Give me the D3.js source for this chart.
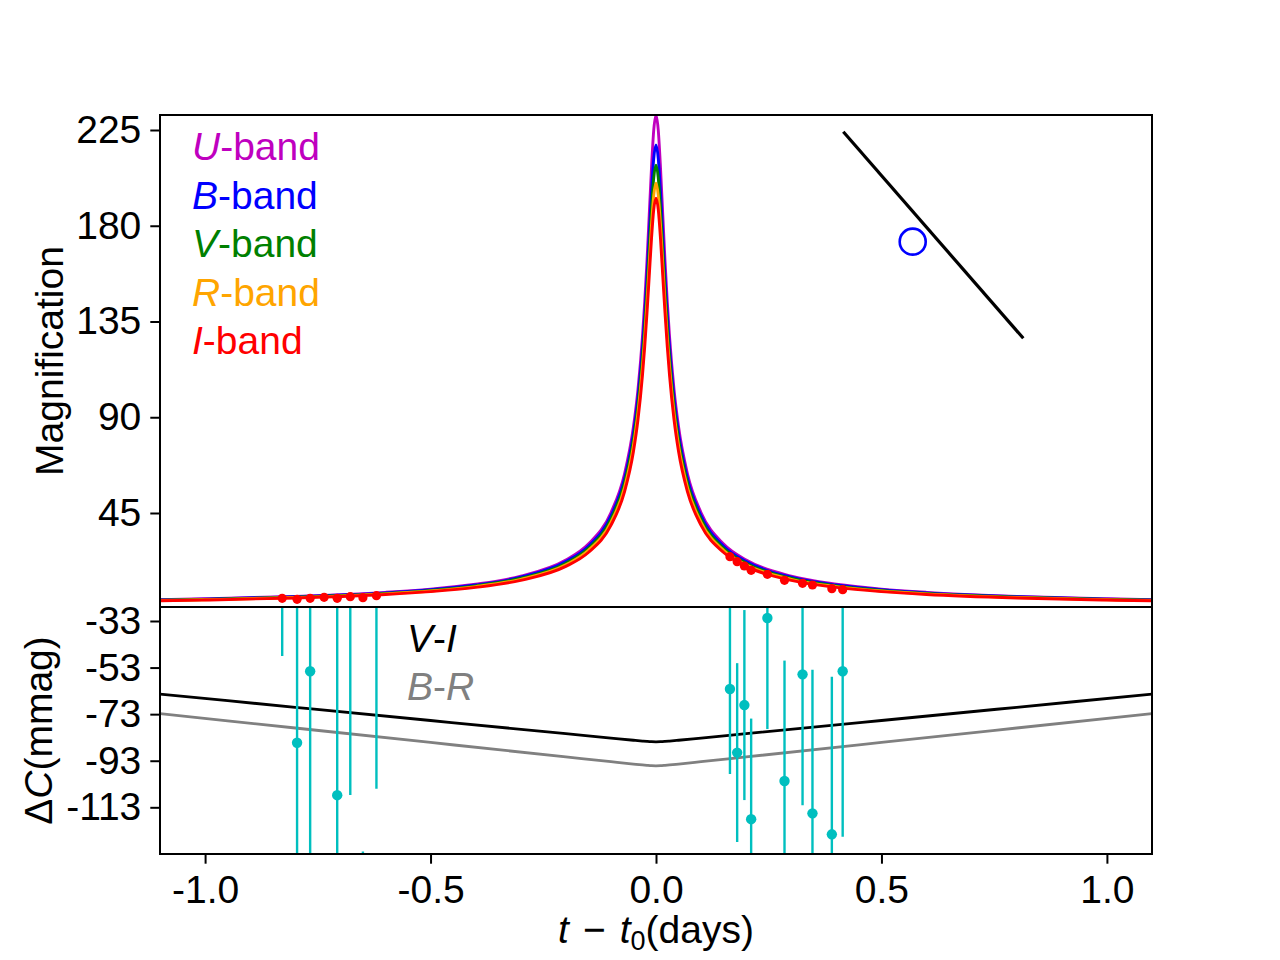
<!DOCTYPE html>
<html>
<head>
<meta charset="utf-8">
<script src="https://cdn.jsdelivr.net/npm/d3@7/dist/d3.min.js"></script>
<style>
    body { margin: 0; background: #fff; }
    text { font-family: "Liberation Sans", Arial, sans-serif; }
</style>
</head>
<body>
<script>

    // ---------------- data ----------------
    // model light curves: time from peak (days) and magnification per band
    var tModel = [-1.1, -1.0, -0.8, -0.6, -0.5, -0.4, -0.3, -0.2, -0.15, -0.1, -0.07, -0.05, -0.04, -0.03, -0.025, -0.02, -0.015, -0.01, -0.005,
        0, 0.005, 0.01, 0.015, 0.02, 0.025, 0.03, 0.04, 0.05, 0.07, 0.1, 0.15, 0.2, 0.3, 0.4, 0.5, 0.6, 0.8, 1.0, 1.1];
    var magU = [4.27, 4.68, 5.81, 7.71, 9.23, 11.52, 15.32, 22.90, 30.42, 45.13, 63.2, 85.5, 103.0, 127.9, 144.2, 163.3, 185.0, 207.1, 225.0,
        232, 225.0, 207.1, 185.0, 163.3, 144.2, 127.9, 103.0, 85.5, 63.2, 45.13, 30.42, 22.90, 15.32, 11.52, 9.23, 7.71, 5.81, 4.68, 4.27];
    var magB = [4.14, 4.53, 5.63, 7.46, 8.93, 11.14, 14.82, 22.15, 29.41, 43.61, 61.0, 82.4, 99.1, 122.6, 137.9, 155.7, 175.7, 195.8, 211.7,
        218, 211.7, 195.8, 175.7, 155.7, 137.9, 122.6, 99.1, 82.4, 61.0, 43.61, 29.41, 22.15, 14.82, 11.14, 8.93, 7.46, 5.63, 4.53, 4.14];
    var magV = [4.00, 4.39, 5.44, 7.22, 8.64, 10.77, 14.33, 21.40, 28.41, 42.12, 58.9, 79.5, 95.5, 118.1, 132.7, 149.7, 168.6, 187.6, 202.6,
        208.5, 202.6, 187.6, 168.6, 149.7, 132.7, 118.1, 95.5, 79.5, 58.9, 42.12, 28.41, 21.40, 14.33, 10.77, 8.64, 7.22, 5.44, 4.39, 4.00];
    var magR = [3.87, 4.24, 5.26, 6.97, 8.34, 10.40, 13.83, 20.66, 27.42, 40.64, 56.8, 76.7, 92.1, 113.8, 127.7, 144.0, 162.1, 180.2, 194.4,
        200, 194.4, 180.2, 162.1, 144.0, 127.7, 113.8, 92.1, 76.7, 56.8, 40.64, 27.42, 20.66, 13.83, 10.40, 8.34, 6.97, 5.26, 4.24, 3.87];
    var magI = [3.74, 4.09, 5.07, 6.72, 8.04, 10.02, 13.33, 19.91, 26.43, 39.18, 54.8, 73.9, 88.8, 109.7, 123.2, 138.9, 156.3, 173.8, 187.6,
        193, 187.6, 173.8, 156.3, 138.9, 123.2, 109.7, 88.8, 73.9, 54.8, 39.18, 26.43, 19.91, 13.33, 10.02, 8.04, 6.72, 5.07, 4.09, 3.74];

    var bandNames = ["U", "B", "V", "R", "I"];
    var bandColors = ["#bf00bf", "#0000ff", "#008000", "#ffa500", "#ff0000"];
    var bandMags = [magU, magB, magV, magR, magI];

    // observed points (I band) and their colour offsets
    var obsT = [-0.829, -0.796, -0.767, -0.736, -0.707, -0.678, -0.650, -0.620,
        0.164, 0.180, 0.196, 0.211, 0.247, 0.285, 0.325, 0.347, 0.390, 0.414];
    var obsMag = [4.91, 4.44, 4.91, 5.38, 4.91, 5.66, 5.19, 6.13,
        24.46, 22.11, 20.09, 18.07, 16.19, 13.37, 11.96, 11.16, 9.42, 8.95];
    var obsDC = [56, -85.3, -54.6, 90, -107.8, -2.7, -237, -5,
        -62.2, -89.5, -69.1, -118.1, -31.7, -101.7, -55.9, -115.6, -124.6, -54.6];
    var obsDCerr = [104, 105, 103, 105, 102, 105, 105, 100,
        36.5, 38.4, 40.8, 43.2, 47.7, 51.7, 56.2, 61.7, 67.7, 71.0];

    // model colour curves (mmag)
    var tColor = [-1.1, -0.8, -0.5, -0.2, -0.1, -0.05, -0.03, -0.02, -0.01, 0, 0.01, 0.02, 0.03, 0.05, 0.1, 0.2, 0.5, 0.8, 1.1];
    var colorVI = [-64.39, -70.06, -75.73, -81.39, -83.27, -84.20, -84.55, -84.71, -84.84, -84.9,
        -84.84, -84.71, -84.55, -84.20, -83.27, -81.39, -75.73, -70.06, -64.39];
    var colorBR = [-72.74, -78.95, -85.16, -91.36, -93.42, -94.43, -94.82, -94.99, -95.14, -95.2,
        -95.14, -94.99, -94.82, -94.43, -93.42, -91.36, -85.16, -78.95, -72.74];

    // inset: source trajectory and source disc (inset units 0..1)
    var trajX = [0.0665, 0.9665];
    var trajY = [0.949, 0.0509];
    var sourceX = [0.4135];
    var sourceY = [0.471];

    // ticks
    var magTicks = [45, 90, 135, 180, 225];
    var dcTicks = [-33, -53, -73, -93, -113];
    var timeTicks = [-1.0, -0.5, 0.0, 0.5, 1.0];

    // ---------------- layout ----------------
    // note: "top" is a reserved window property, so panel edges get their own names
    var W = 1280, H = 960;
    var padL = 160, padR = 1152, panelTop = 115, panelMid = 607, panelBot = 854;
    var fontSize = 39;

    var svg = d3.select("body").append("svg")
        .attr("width", W).attr("height", H)
        .style("display", "block");

    var x = d3.scaleLinear().domain([-1.1, 1.1]).range([padL, padR]);
    var yTop = d3.scaleLinear().domain([0.82, 232.05]).range([panelMid, panelTop]);
    var yBot = d3.scaleLinear().domain([-133.05, -26.99]).range([panelBot, panelMid]);

    var defs = svg.append("defs");
    defs.append("clipPath").attr("id", "clipTop").append("rect")
        .attr("x", padL).attr("y", panelTop).attr("width", padR - padL).attr("height", panelMid - panelTop);
    defs.append("clipPath").attr("id", "clipBot").append("rect")
        .attr("x", padL).attr("y", panelMid).attr("width", padR - padL).attr("height", panelBot - panelMid);

    //--------------------------top panel-------------------------
    var gTop = svg.append("g").attr("clip-path", "url(#clipTop)");

    bandMags.forEach(function (mags, i) {
        var line = d3.line()
            .x(function (d, j) { return x(tModel[j]); })
            .y(function (d) { return yTop(d); })
            .curve(d3.curveMonotoneX);
        gTop.append("path")
            .attr("d", line(mags))
            .attr("fill", "none")
            .attr("stroke", bandColors[i])
            .attr("stroke-width", 2.9);
    });

    gTop.selectAll(".obs")
        .data(obsT)
        .enter()
        .append("circle")
        .attr("cx", function (d) { return x(d); })
        .attr("cy", function (d, i) { return yTop(obsMag[i]); })
        .attr("r", 4.6)
        .attr("fill", "#ff0000");

    // inset
    var ix = d3.scaleLinear().domain([0, 1]).range([830, 1030]);
    var iy = d3.scaleLinear().domain([0, 1]).range([350, 120]);
    gTop.append("line")
        .attr("x1", ix(trajX[0])).attr("y1", iy(trajY[0]))
        .attr("x2", ix(trajX[1])).attr("y2", iy(trajY[1]))
        .attr("stroke", "#000").attr("stroke-width", 3.2);
    gTop.selectAll(".src")
        .data(sourceX)
        .enter()
        .append("circle")
        .attr("cx", function (d) { return ix(d); })
        .attr("cy", function (d, i) { return iy(sourceY[i]); })
        .attr("r", 13)
        .attr("fill", "none")
        .attr("stroke", "#0000ff")
        .attr("stroke-width", 2.6);

    // legend
    var legend = svg.append("g");
    bandNames.forEach(function (b, i) {
        var t = legend.append("text")
            .attr("x", 192)
            .attr("y", 160 + i * 48.6)
            .attr("font-size", fontSize)
            .attr("fill", bandColors[i]);
        t.append("tspan").attr("font-style", "italic").text(b);
        t.append("tspan").text("-band");
    });

    //--------------------------bottom panel-------------------------
    var gBot = svg.append("g").attr("clip-path", "url(#clipBot)");

    var colLine = d3.line()
        .x(function (d, j) { return x(tColor[j]); })
        .y(function (d) { return yBot(d); })
        .curve(d3.curveMonotoneX);
    gBot.append("path").attr("d", colLine(colorBR))
        .attr("fill", "none").attr("stroke", "#808080").attr("stroke-width", 2.8);
    gBot.append("path").attr("d", colLine(colorVI))
        .attr("fill", "none").attr("stroke", "#000").attr("stroke-width", 2.8);

    gBot.selectAll(".err")
        .data(obsT)
        .enter()
        .append("line")
        .attr("x1", function (d) { return x(d); })
        .attr("x2", function (d) { return x(d); })
        .attr("y1", function (d, i) { return yBot(obsDC[i] - obsDCerr[i]); })
        .attr("y2", function (d, i) { return yBot(obsDC[i] + obsDCerr[i]); })
        .attr("stroke", "#00bfbf")
        .attr("stroke-width", 2.4);
    gBot.selectAll(".dc")
        .data(obsT)
        .enter()
        .append("circle")
        .attr("cx", function (d) { return x(d); })
        .attr("cy", function (d, i) { return yBot(obsDC[i]); })
        .attr("r", 5.2)
        .attr("fill", "#00bfbf");

    var ann = [["V", "I", "#000"], ["B", "R", "#808080"]];
    ann.forEach(function (a, i) {
        var t = svg.append("text")
            .attr("x", 407)
            .attr("y", 652 + i * 48)
            .attr("font-size", fontSize)
            .attr("fill", a[2]);
        t.append("tspan").attr("font-style", "italic").text(a[0]);
        t.append("tspan").text("-");
        t.append("tspan").attr("font-style", "italic").text(a[1]);
    });

    //--------------------------axes-------------------------
    function styleAxis(g) {
        g.select(".domain").remove();
        g.selectAll(".tick line").attr("stroke", "#000").attr("stroke-width", 2);
        g.selectAll(".tick text")
            .attr("font-size", fontSize)
            .attr("font-family", "Liberation Sans, Arial, sans-serif")
            .attr("fill", "#000");
    }

    svg.append("g")
        .attr("transform", "translate(" + padL + ",0)")
        .call(d3.axisLeft(yTop).tickValues(magTicks).tickSize(9.7).tickPadding(9)
            .tickFormat(function (d) { return String(d); }))
        .call(styleAxis);

    svg.append("g")
        .attr("transform", "translate(" + padL + ",0)")
        .call(d3.axisLeft(yBot).tickValues(dcTicks).tickSize(9.7).tickPadding(9)
            .tickFormat(function (d) { return String(d); }))
        .call(styleAxis);

    svg.append("g")
        .attr("transform", "translate(0," + panelBot + ")")
        .call(d3.axisBottom(x).tickValues(timeTicks).tickSize(9.7).tickPadding(12)
            .tickFormat(function (d) { return d.toFixed(1); }))
        .call(styleAxis);

    // spines
    svg.append("rect")
        .attr("x", padL).attr("y", panelTop).attr("width", padR - padL).attr("height", panelMid - panelTop)
        .attr("fill", "none").attr("stroke", "#000").attr("stroke-width", 2);
    svg.append("rect")
        .attr("x", padL).attr("y", panelMid).attr("width", padR - padL).attr("height", panelBot - panelMid)
        .attr("fill", "none").attr("stroke", "#000").attr("stroke-width", 2);

    // axis labels
    svg.append("text")
        .attr("transform", "translate(63," + ((panelTop + panelMid) / 2) + ") rotate(-90)")
        .attr("text-anchor", "middle")
        .attr("font-size", fontSize)
        .text("Magnification");

    var dcLabel = svg.append("text")
        .attr("transform", "translate(52," + ((panelMid + panelBot) / 2) + ") rotate(-90)")
        .attr("text-anchor", "middle")
        .attr("font-size", fontSize);
    dcLabel.append("tspan").text("\u0394");
    dcLabel.append("tspan").attr("font-style", "italic").text("C");
    dcLabel.append("tspan").text("(mmag)");

    var xLabel = svg.append("text")
        .attr("x", (padL + padR) / 2)
        .attr("y", 943)
        .attr("text-anchor", "middle")
        .attr("font-size", fontSize);
    xLabel.append("tspan").attr("font-style", "italic").text("t");
    xLabel.append("tspan").attr("dx", 14).text("\u2212");
    xLabel.append("tspan").attr("dx", 14).attr("font-style", "italic").text("t");
    xLabel.append("tspan").attr("font-size", 27).attr("dy", 7).text("0");
    xLabel.append("tspan").attr("dy", -7).text("(days)");

</script>
</body>
</html>
